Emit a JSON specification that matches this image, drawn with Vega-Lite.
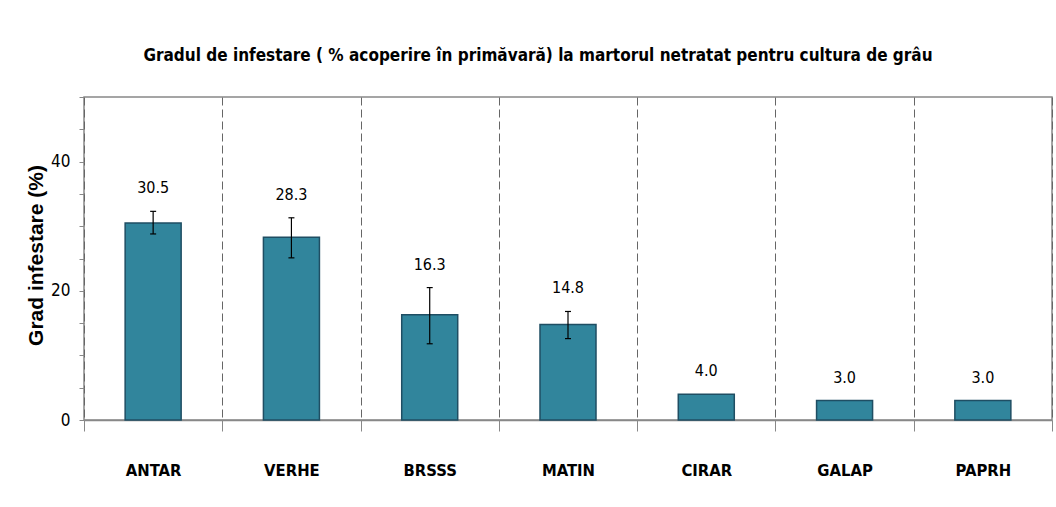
{
  "$schema": "https://vega.github.io/schema/vega-lite/v6.json",
  "width": 968,
  "height": 323,
  "autosize": {"type": "none"},
  "padding": {"left": 84, "top": 97, "right": 4, "bottom": 87},
  "background": "white",
  "title": {
    "text": "Gradul de infestare ( % acoperire în primăvară) la martorul netratat pentru cultura de grâu",
    "font": "Liberation Sans Narrow, DejaVu Sans Condensed, sans-serif",
    "fontSize": 17,
    "fontWeight": "bold",
    "color": "black",
    "anchor": "middle",
    "dx": -30,
    "offset": 10,
    "baseline": "alphabetic"
  },
  "data": {
    "values": [
      {"cat": "ANTAR", "value": 30.5, "low": 28.8, "high": 32.3},
      {"cat": "VERHE", "value": 28.3, "low": 25.1, "high": 31.3},
      {"cat": "BRSSS", "value": 16.3, "low": 11.8, "high": 20.5},
      {"cat": "MATIN", "value": 14.8, "low": 12.6, "high": 16.8},
      {"cat": "CIRAR", "value": 4.0, "low": 4.0, "high": 4.0},
      {"cat": "GALAP", "value": 3.0, "low": 3.0, "high": 3.0},
      {"cat": "PAPRH", "value": 3.0, "low": 3.0, "high": 3.0}
    ]
  },
  "encoding": {
    "x": {
      "field": "cat",
      "type": "nominal",
      "sort": null,
      "title": null,
      "scale": {"paddingInner": 0, "paddingOuter": 0}
    }
  },
  "layer": [
    {
      "mark": {"type": "bar", "width": {"band": 0.405}, "fill": "#31859C", "stroke": "#1F4E63", "strokeWidth": 1.5},
      "encoding": {
        "y": {"field": "value", "type": "quantitative", "title": "Grad infestare (%)", "scale": {"domain": [0, 50], "nice": false}}
      }
    },
    {
      "mark": {"type": "point", "shape": "M-1.9,-2.7H1.9V1.5H-1.9Z", "size": 400, "filled": true, "fill": "white", "opacity": 1, "strokeWidth": 0, "yOffset": -23},
      "encoding": {
        "y": {"field": "high", "type": "quantitative", "title": "Grad infestare (%)", "scale": {"domain": [0, 50], "nice": false}}
      }
    },
    {
      "transform": [{"filter": "datum.high > datum.low"}],
      "mark": {"type": "rule", "color": "black", "strokeWidth": 1.2},
      "encoding": {
        "y": {"field": "low", "type": "quantitative", "title": "Grad infestare (%)", "scale": {"domain": [0, 50], "nice": false}},
        "y2": {"field": "high"}
      }
    },
    {
      "transform": [{"filter": "datum.high > datum.low"}],
      "mark": {"type": "tick", "size": 6, "thickness": 1.2, "color": "black", "opacity": 1},
      "encoding": {
        "y": {"field": "low", "type": "quantitative", "title": "Grad infestare (%)", "scale": {"domain": [0, 50], "nice": false}}
      }
    },
    {
      "transform": [{"filter": "datum.high > datum.low"}],
      "mark": {"type": "tick", "size": 6, "thickness": 1.2, "color": "black", "opacity": 1},
      "encoding": {
        "y": {"field": "high", "type": "quantitative", "title": "Grad infestare (%)", "scale": {"domain": [0, 50], "nice": false}}
      }
    },
    {
      "mark": {"type": "text", "font": "Liberation Sans Narrow, DejaVu Sans Condensed, sans-serif", "fontSize": 16, "color": "black", "baseline": "middle", "align": "center", "yOffset": -23},
      "encoding": {
        "y": {"field": "high", "type": "quantitative", "title": "Grad infestare (%)", "scale": {"domain": [0, 50], "nice": false}},
        "text": {"field": "value", "type": "quantitative", "format": ".1f"}
      }
    }
  ],
  "config": {
    "view": {"stroke": "#888888", "strokeWidth": 1.5},
    "axisY": {
      "values": [0, 10, 20, 30, 40],
      "labelExpr": "datum.value % 20 === 0 ? datum.label : ''",
      "labelOverlap": false,
      "labelFont": "Liberation Sans Narrow, DejaVu Sans Condensed, sans-serif",
      "labelFontSize": 17,
      "labelColor": "black",
      "labelPadding": 9,
      "tickSize": 5,
      "tickColor": "#888888",
      "domain": false,
      "grid": true,
      "gridDash": [5, 3],
      "gridColor": "#555555",
      "gridOpacity": {"condition": {"test": "datum.value === 20 || datum.value === 40", "value": 1}, "value": 0},
      "titleFont": "Liberation Sans, Arial, sans-serif",
      "titleFontSize": 21,
      "titleFontWeight": "bold",
      "titleColor": "black",
      "titleX": -48,
      "titleY": 158,
      "titleAlign": "center",
      "titleBaseline": "middle",
      "titleAngle": -90
    },
    "axisX": {
      "tickBand": "extent",
      "labelAngle": 0,
      "labelFont": "Liberation Sans Narrow, DejaVu Sans Condensed, sans-serif",
      "labelFontWeight": "bold",
      "labelFontSize": 16.5,
      "labelColor": "black",
      "labelPadding": 31,
      "labelBaseline": "top",
      "tickSize": 11,
      "tickColor": "#888888",
      "domainColor": "#888888",
      "domainWidth": 1.5,
      "grid": true,
      "gridDash": [8, 4],
      "gridColor": "#666666"
    }
  }
}
